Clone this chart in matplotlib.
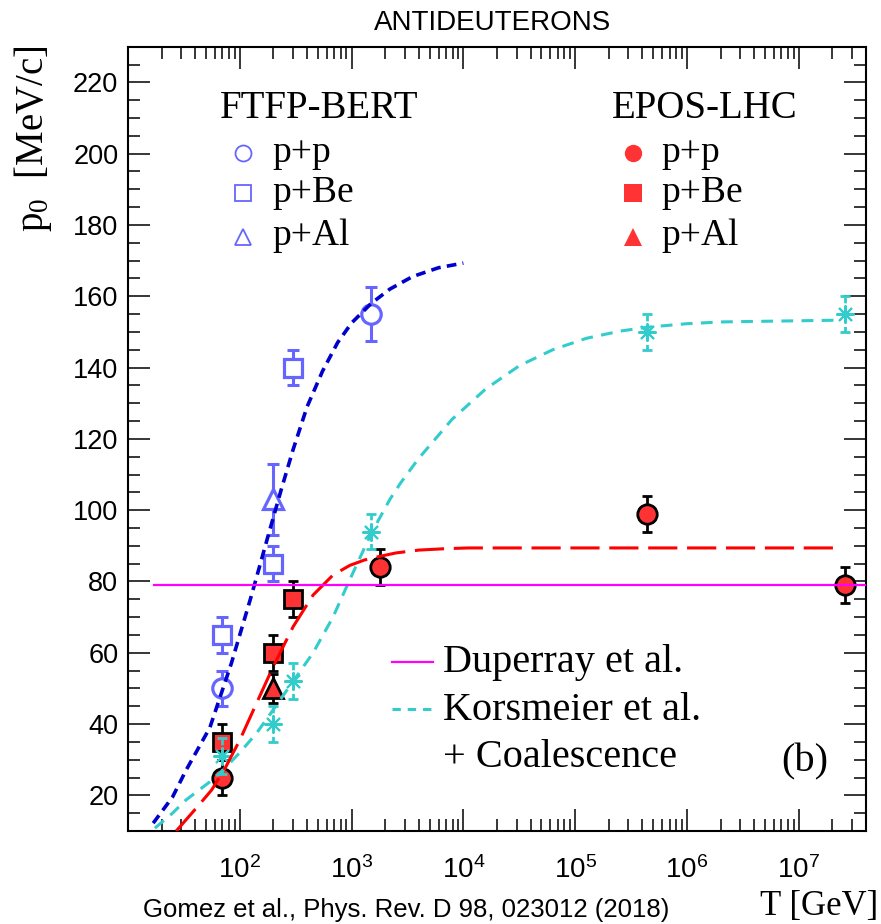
#!/usr/bin/env python
# -*- coding: utf-8 -*-
"""Antideuteron coalescence momentum p0 vs. projectile kinetic energy T."""

import matplotlib
matplotlib.use("Agg")
import matplotlib.pyplot as plt
from matplotlib.lines import Line2D
from matplotlib.ticker import LogLocator, MultipleLocator

## Data

# FTFP-BERT (open markers)
ftfp_pp_T = [70, 1500]
ftfp_pp_p0 = [50, 155]
ftfp_pp_err = [5, 7.5]
ftfp_pbe_T = [70, 200, 300]
ftfp_pbe_p0 = [65, 85, 140]
ftfp_pbe_err = [5, 5, 5]
ftfp_pal_T = [200]
ftfp_pal_p0 = [103]
ftfp_pal_err = [10]

# EPOS-LHC (filled markers)
epos_pp_T = [70, 1800, 4.4e5, 2.6e7]
epos_pp_p0 = [25, 84, 99, 79]
epos_pp_err = [5, 5, 5, 5]
epos_pbe_T = [70, 200, 300]
epos_pbe_p0 = [35, 60, 75]
epos_pbe_err = [5, 5, 5]
epos_pal_T = [200]
epos_pal_p0 = [50]
epos_pal_err = [4]

# Korsmeier et al. + coalescence (stars)
kors_T = [70, 200, 300, 1500, 4.4e5, 2.6e7]
kors_p0 = [31, 40, 52, 94, 150, 155]
kors_err = [5, 5, 5, 5, 5, 5]

# Fit curves
ftfp_fit_T = [16.8, 25, 33, 54, 84, 127, 180, 236, 300, 400, 550, 750, 1000,
              1500, 2200, 3500, 6000, 1e4]
ftfp_fit_p0 = [12.2, 19.5, 27, 39, 57, 76, 93, 106, 117, 129, 139, 147, 152.5,
               158, 162, 165.5, 168, 169.3]
kors_fit_T = [17.4, 25, 33, 54, 71, 100, 141, 199, 300, 453, 682, 964, 1500,
              2200, 2742, 3981, 7943, 15849, 31623, 63096, 1.26e5, 2.5e5,
              4.37e5, 1e6, 2.05e6, 2.4e7]
kors_fit_p0 = [10.8, 15, 18.7, 23.8, 27.1, 32, 37.4, 44, 52, 60, 70, 80.5, 93.5,
               103, 107.6, 114.5, 125.5, 134, 140.5, 145, 148.2, 150.2,
               151.3, 152.3, 152.8, 153.3]
epos_fit_T = [27, 41, 56, 75, 100, 141, 199, 300, 453, 682, 964, 1300, 1766,
              2500, 4010, 7000, 11200, 2.4e7]
epos_fit_p0 = [10, 16.5, 21.5, 28, 35.5, 45.8, 56.1, 67.3, 76.2, 81.8, 84.5,
               86, 87, 88, 88.8, 89.2, 89.4, 89.4]

# Duperray et al.
duperray_T = [17, 4e7]
duperray_p0 = [79, 79]

x_ticks = [1e2, 1e3, 1e4, 1e5, 1e6, 1e7]

## Style

W, H = 881, 924
SERIF = "Liberation Serif"
SANS = "Liberation Sans"

OPEN_BLUE = "#6666ff"
FIT_BLUE = "#0000cc"
RED = "#ff3333"
CYAN = "#33cccc"
MAGENTA = "#ff00ff"

plt.rcParams["font.family"] = SANS
plt.rcParams["mathtext.default"] = "regular"
plt.rcParams["lines.scale_dashes"] = False


def fx(x):
    return x / W


def fy(y):
    return 1 - y / H


fig = plt.figure(figsize=(W / 100, H / 100), dpi=100)
fig.set_facecolor("white")
ax = fig.add_axes([fx(128), fy(831), (866 - 128) / W, (831 - 46.7) / H])

ax.set_xscale("log")
ax.set_xlim(10, 4e7)
ax.set_ylim(10, 230)
ax.set_xticks(x_ticks)
ax.xaxis.set_minor_locator(LogLocator(base=10, subs=range(2, 10), numticks=20))
ax.yaxis.set_major_locator(MultipleLocator(20))
ax.yaxis.set_minor_locator(MultipleLocator(5))
ax.yaxis.set_major_formatter(lambda v, pos: "%d" % v if v >= 20 else "")

ax.tick_params(which="both", direction="in", top=True, right=True, width=1.1)
ax.tick_params(which="major", length=16)
ax.tick_params(which="minor", length=8.5)
ax.tick_params(axis="y", labelsize=19.5, pad=7)
ax.tick_params(axis="x", labelsize=20, pad=18)
for s in ax.spines.values():
    s.set_linewidth(1.5)

## Data points


def draw_points(T, p0, err, marker, ms, mfc, mec, mew, ecolor, elw, capsize, z, dashed=False):
    eb = ax.errorbar(T, p0, yerr=err, fmt="none", ecolor=ecolor, elinewidth=elw,
                     capsize=capsize, capthick=elw, zorder=z)
    if dashed:
        for lc in eb.lines[2]:
            lc.set_linestyle((0, (4, 3)))
    ax.plot(T, p0, ls="none", marker=marker, ms=ms, mfc=mfc, mec=mec, mew=mew, zorder=z + 0.1)


draw_points(ftfp_pp_T, ftfp_pp_p0, ftfp_pp_err, "o", 14, "white", OPEN_BLUE, 2.3, OPEN_BLUE, 2.2, 4, 3)
draw_points(ftfp_pbe_T, ftfp_pbe_p0, ftfp_pbe_err, "s", 13.5, "white", OPEN_BLUE, 2.3, OPEN_BLUE, 2.2, 4, 3)
draw_points(ftfp_pal_T, ftfp_pal_p0, ftfp_pal_err, "^", 15, "white", OPEN_BLUE, 2.3, OPEN_BLUE, 2.2, 4, 3)

draw_points(epos_pp_T, epos_pp_p0, epos_pp_err, "o", 14, RED, "black", 2, "black", 2, 3.5, 3)
draw_points(epos_pbe_T, epos_pbe_p0, epos_pbe_err, "s", 13.5, RED, "black", 2, "black", 2, 3.5, 3)
draw_points(epos_pal_T, epos_pal_p0, epos_pal_err, "^", 14.5, RED, "black", 2, "black", 2, 3.5, 3)

draw_points(kors_T, kors_p0, kors_err, (8, 2, 0), 13, CYAN, CYAN, 1.5, CYAN, 2, 3.5, 4, dashed=True)

## Curves
ax.plot(ftfp_fit_T, ftfp_fit_p0, color=FIT_BLUE, lw=2.6, dashes=(7, 4.5), zorder=5)
ax.plot(kors_fit_T, kors_fit_p0, color=CYAN, lw=2.2, dashes=(8.5, 6), zorder=5)
ax.plot(epos_fit_T, epos_fit_p0, color="red", lw=2.2, dashes=(21, 7), zorder=5)
ax.plot(duperray_T, duperray_p0, color=MAGENTA, lw=1.6, zorder=5)

## Legends (drawn by hand, ROOT style)
fig.text(fx(220), fy(118.3), "FTFP-BERT", family=SERIF, fontsize=28, va="baseline")
fig.text(fx(611.7), fy(118.3), "EPOS-LHC", family=SERIF, fontsize=28, va="baseline")

rows = [("p+p", "o", 153.3, 161.7), ("p+Be", "s", 193.3, 201.7), ("p+Al", "^", 237, 245)]
for label, mk, ym, yb in rows:
    fig.add_artist(Line2D([fx(243.3)], [fy(ym)], transform=fig.transFigure, ls="none",
                          marker=mk, ms=11.5, mfc="none", mec=OPEN_BLUE, mew=1.3))
    fig.text(fx(272.7), fy(yb), label, family=SERIF, fontsize=27, va="baseline")
    fig.add_artist(Line2D([fx(633.3)], [fy(ym)], transform=fig.transFigure, ls="none",
                          marker=mk, ms=12.5, mfc=RED, mec=RED, mew=0))
    fig.text(fx(661.7), fy(yb), label, family=SERIF, fontsize=27, va="baseline")

fig.add_artist(Line2D([fx(392), fx(433)], [fy(662), fy(662)], transform=fig.transFigure,
                      color=MAGENTA, lw=1.6))
fig.add_artist(Line2D([fx(392), fx(433)], [fy(709), fy(709)], transform=fig.transFigure,
                      color=CYAN, lw=2.2, dashes=(6, 5)))
fig.text(fx(443), fy(671.7), "Duperray et al.", family=SERIF, fontsize=29, va="baseline")
fig.text(fx(443), fy(720), "Korsmeier et al.", family=SERIF, fontsize=29, va="baseline")
fig.text(fx(443), fy(767.3), "+ Coalescence", family=SERIF, fontsize=29, va="baseline")
fig.text(fx(805), fy(771.7), "(b)", family=SERIF, fontsize=29, va="baseline", ha="center")

## Titles and labels
fig.text(fx(493), fy(22.5), "ANTIDEUTERONS", ha="center", va="center", fontsize=20)
fig.text(fx(33), fy(45), r"p$_{0}$  [MeV/c]", rotation=90, ha="center", va="top",
         family=SERIF, fontsize=28)
fig.text(fx(878), fy(915), "T [GeV]", ha="right", va="baseline", family=SERIF, fontsize=25)
fig.text(fx(143), fy(917), "Gomez et al., Phys. Rev. D 98, 023012 (2018)", va="baseline",
         fontsize=18.5)

fig.savefig("out.png", dpi=100, facecolor="white")
